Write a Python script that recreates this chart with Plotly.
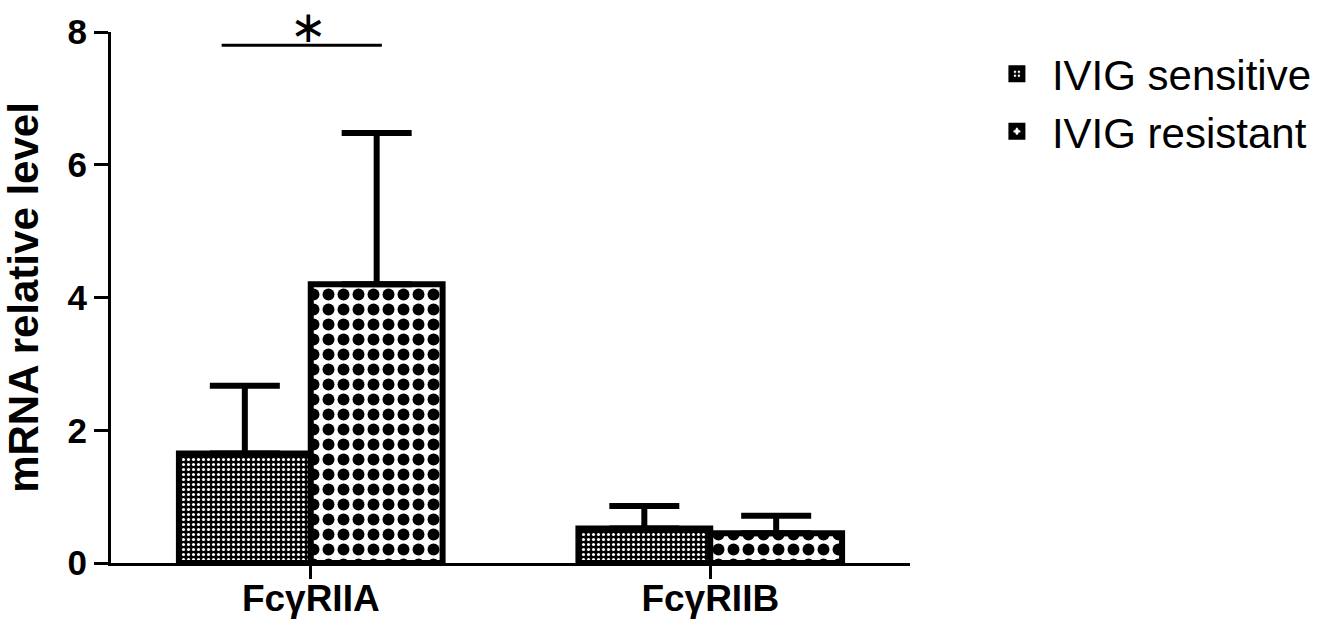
import plotly.graph_objects as go

categories = ["FcγRIIA", "FcγRIIB"]
series_names = ["IVIG sensitive", "IVIG resistant"]
sensitive_mean = [1.65, 0.52]
sensitive_sd = [1.02, 0.34]
resistant_mean = [4.20, 0.45]
resistant_sd = [2.28, 0.26]
y_ticks = [0, 2, 4, 6, 8]

FONT = "Liberation Sans, Arial, sans-serif"

fig = go.Figure()

fig.add_trace(go.Bar(
    name=series_names[0], x=categories, y=sensitive_mean,
    marker=dict(color="black", line=dict(color="black", width=6),
                pattern=dict(shape=".", bgcolor="black", fgcolor="white",
                             fillmode="replace", fgopacity=1,
                             size=5, solidity=0.3)),
    error_y=dict(type="data", symmetric=False, array=sensitive_sd,
                 arrayminus=[0, 0], color="black", thickness=6, width=35),
))
fig.add_trace(go.Bar(
    name=series_names[1], x=categories, y=resistant_mean,
    marker=dict(color="white", line=dict(color="black", width=6),
                pattern=dict(shape=".", bgcolor="white", fgcolor="black",
                             fillmode="replace", fgopacity=1,
                             size=15, solidity=0.5)),
    error_y=dict(type="data", symmetric=False, array=resistant_sd,
                 arrayminus=[0, 0], color="black", thickness=6, width=35),
))

# significance bracket
fig.add_shape(type="line", xref="x", yref="y", x0=-0.223, x1=0.178, y0=7.8, y1=7.8,
              line=dict(color="black", width=3))
fig.add_annotation(x=-0.005, y=1.011, xref="x", yref="paper", text="∗", showarrow=False,
                   font=dict(family="DejaVu Sans", size=44, color="black"),
                   yanchor="middle")

fig.update_layout(
    template="none",
    width=1323, height=620,
    margin=dict(l=111, r=413, t=32, b=57, autoexpand=False),
    paper_bgcolor="white", plot_bgcolor="white",
    barmode="group", bargap=0.34, bargroupgap=0,
    font=dict(family=FONT, color="black"),
    showlegend=True,
    legend=dict(x=1.09, y=0.985, xanchor="left", yanchor="top",
                font=dict(family=FONT, size=42, color="black"),
                bgcolor="rgba(0,0,0,0)", itemwidth=60, tracegroupgap=0),
    xaxis=dict(
        automargin=False,
        showline=True, linecolor="black", linewidth=3,
        ticks="outside", ticklen=13, tickwidth=3, tickcolor="black",
        ticklabelstandoff=-12,
        tickfont=dict(family=FONT, size=37, color="black", weight="bold"),
        showgrid=False, zeroline=False,
    ),
    yaxis=dict(
        automargin=False,
        range=[0, 8], tickvals=y_ticks, ticktext=[str(v) for v in y_ticks],
        showline=True, linecolor="black", linewidth=3,
        ticks="outside", ticklen=14, tickwidth=3, tickcolor="black",
        tickfont=dict(family=FONT, size=35, color="black", weight="bold"),
        showgrid=False, zeroline=False,
        title=dict(text="mRNA relative level", standoff=16,
                   font=dict(family=FONT, size=42, color="black", weight="bold")),
    ),
)

fig.write_html("out.html", config={"displayModeBar": False},
               post_script="document.body.style.margin='0';document.body.style.overflow='hidden';")
